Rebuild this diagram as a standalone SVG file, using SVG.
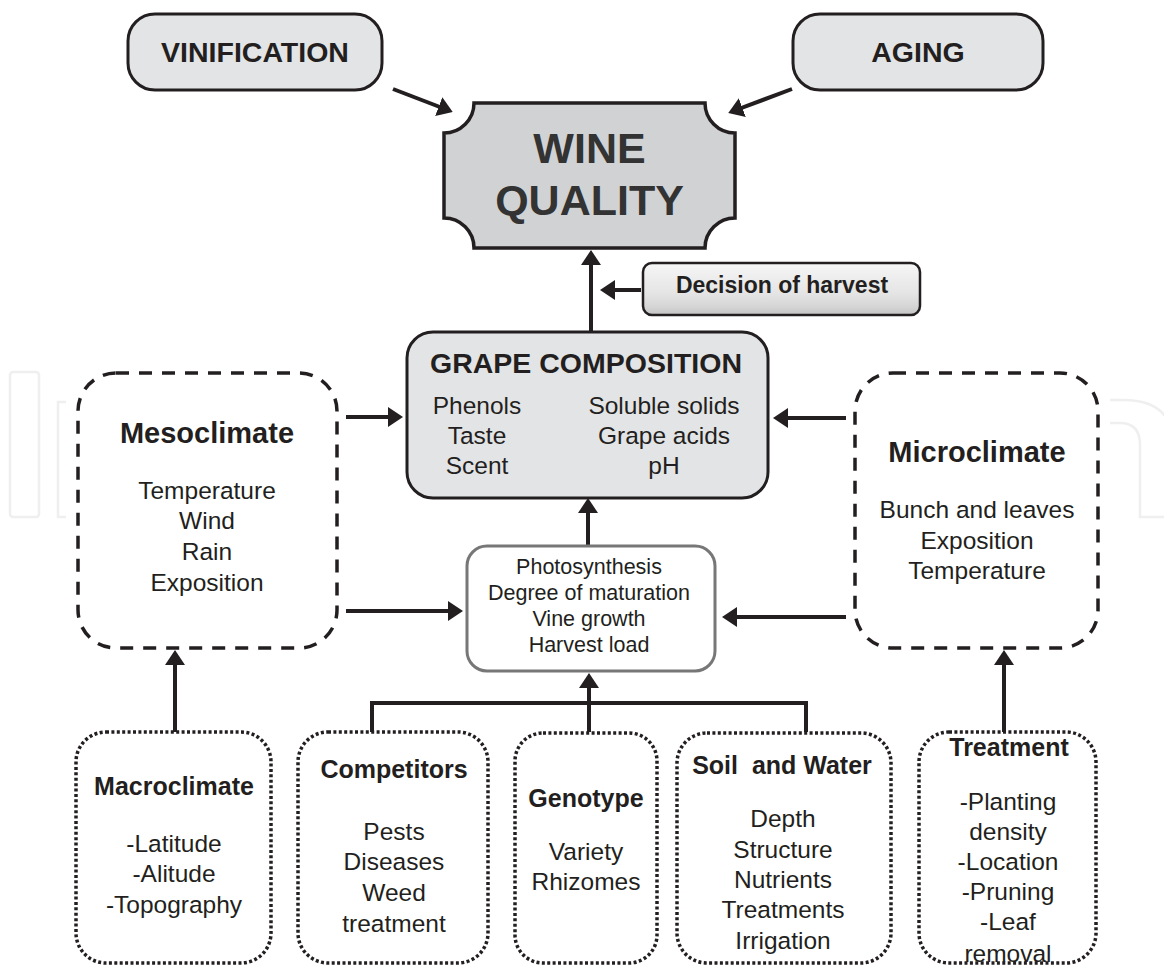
<svg xmlns="http://www.w3.org/2000/svg" width="1164" height="966" viewBox="0 0 1164 966">
<style>
  text { font-family: "Liberation Sans", Arial, Helvetica, sans-serif; fill: #231f20; text-anchor: middle; }
  .b { font-weight: bold; }
  .t28 { font-size: 28.5px; font-weight: bold; }
  .t29 { font-size: 29px; font-weight: bold; }
  .t25 { font-size: 25px; font-weight: bold; }
  .body { font-size: 24.5px; }
  .small { font-size: 21.5px; }
  .pill { fill: #e3e4e6; stroke: #231f20; stroke-width: 3; }
  .dash { fill: #ffffff; stroke: #231f20; stroke-width: 3.5; stroke-dasharray: 13 10; }
  .dot { fill: #ffffff; stroke: #231f20; stroke-width: 3.5; stroke-dasharray: 3 2.4; }
  .conn { fill: none; stroke: #231f20; stroke-width: 4; }
  .wm { fill: none; stroke: #efefef; stroke-width: 2.5; }
</style>
<defs>
  <marker id="ah" markerUnits="userSpaceOnUse" viewBox="0 0 15 20" refX="11" refY="10" markerWidth="15" markerHeight="20" orient="auto">
    <path d="M0,0 L15,10 L0,20 Z" fill="#231f20"/>
  </marker>
  <linearGradient id="dg" x1="0" y1="0" x2="0" y2="1">
    <stop offset="0" stop-color="#f6f6f6"/>
    <stop offset="0.6" stop-color="#e4e4e4"/>
    <stop offset="0.85" stop-color="#d4d4d4"/>
    <stop offset="1" stop-color="#c4c4c4"/>
  </linearGradient>
</defs>
<rect width="1164" height="966" fill="#ffffff"/>

<g id="watermark">
  <rect class="wm" x="10" y="372" width="29" height="145" rx="3"/>
  <path class="wm" d="M66 402 H58 V517 H66"/>
  <path class="wm" d="M1110 400 H1124 Q1160 400 1170 425"/>
  <path class="wm" d="M1110 423 H1120 Q1140 423 1140 445 V517 H1164"/>
</g>

<g id="connectors">
  <line class="conn" x1="393" y1="89" x2="449" y2="110.5" marker-end="url(#ah)"/>
  <line class="conn" x1="792" y1="89" x2="732" y2="111.5" marker-end="url(#ah)"/>
  <line class="conn" x1="591" y1="332" x2="591" y2="254" marker-end="url(#ah)"/>
  <line class="conn" x1="641" y1="290" x2="604" y2="290" marker-end="url(#ah)"/>
  <line class="conn" x1="346" y1="417" x2="399" y2="417" marker-end="url(#ah)"/>
  <line class="conn" x1="346" y1="611" x2="459" y2="611" marker-end="url(#ah)"/>
  <line class="conn" x1="846" y1="418" x2="777" y2="418" marker-end="url(#ah)"/>
  <line class="conn" x1="846" y1="617" x2="726" y2="617" marker-end="url(#ah)"/>
  <line class="conn" x1="588" y1="546" x2="588" y2="502" marker-end="url(#ah)"/>
  <line class="conn" x1="589" y1="732" x2="589" y2="677" marker-end="url(#ah)"/>
  <path class="conn" d="M372 732 V703 H806 V732"/>
  <line class="conn" x1="175" y1="732" x2="175" y2="654" marker-end="url(#ah)"/>
  <line class="conn" x1="1004" y1="732" x2="1004" y2="654" marker-end="url(#ah)"/>
</g>

<g id="vinification">
  <rect class="pill" x="128" y="14" width="254" height="76" rx="27"/>
  <text class="t28" x="255" y="62">VINIFICATION</text>
</g>

<g id="aging">
  <rect class="pill" x="793" y="14" width="250" height="76" rx="27"/>
  <text class="t28" x="918" y="62">AGING</text>
</g>

<g id="wine-quality">
  <path d="M474 103 H705 A30 30 0 0 0 735 133 V218 A30 30 0 0 0 705 248 H474 A30 30 0 0 0 444 218 V133 A30 30 0 0 0 474 103 Z" fill="#d1d2d4" stroke="#231f20" stroke-width="3.5"/>
  <text class="b" x="589.5" y="163" style="font-size:43px;fill:#333333">WINE</text>
  <text class="b" x="589.5" y="215" style="font-size:43px;fill:#333333">QUALITY</text>
</g>

<g id="decision-of-harvest">
  <rect x="643" y="263" width="277" height="52" rx="9" fill="url(#dg)" stroke="#231f20" stroke-width="2.5"/>
  <text class="b" x="782" y="293" style="font-size:23px">Decision of harvest</text>
</g>

<g id="grape-composition">
  <rect class="pill" x="407" y="332" width="361" height="166" rx="26"/>
  <text class="t28" x="586" y="373">GRAPE COMPOSITION</text>
  <text class="body" x="477" y="414">Phenols</text>
  <text class="body" x="477" y="444">Taste</text>
  <text class="body" x="477" y="474">Scent</text>
  <text class="body" x="664" y="414">Soluble solids</text>
  <text class="body" x="664" y="444">Grape acids</text>
  <text class="body" x="664" y="474">pH</text>
</g>

<g id="mesoclimate">
  <rect class="dash" x="78" y="373" width="259" height="275" rx="38"/>
  <text class="t29" x="207" y="443">Mesoclimate</text>
  <text class="body" x="207" y="499">Temperature</text>
  <text class="body" x="207" y="529">Wind</text>
  <text class="body" x="207" y="560">Rain</text>
  <text class="body" x="207" y="591">Exposition</text>
</g>

<g id="microclimate">
  <rect class="dash" x="855" y="373" width="243" height="275" rx="38"/>
  <text class="t29" x="977" y="462">Microclimate</text>
  <text class="body" x="977" y="518">Bunch and leaves</text>
  <text class="body" x="977" y="549">Exposition</text>
  <text class="body" x="977" y="579">Temperature</text>
</g>

<g id="vine-processes">
  <rect x="467" y="546" width="248" height="125" rx="20" fill="#ffffff" stroke="#777777" stroke-width="3"/>
  <text class="small" x="589" y="574">Photosynthesis</text>
  <text class="small" x="589" y="600">Degree of maturation</text>
  <text class="small" x="589" y="626">Vine growth</text>
  <text class="small" x="589" y="652">Harvest load</text>
</g>

<g id="macroclimate">
  <rect class="dot" x="76" y="732" width="195" height="231" rx="30"/>
  <text class="t25" x="174" y="795">Macroclimate</text>
  <text class="body" x="174" y="852">-Latitude</text>
  <text class="body" x="174" y="882">-Alitude</text>
  <text class="body" x="174" y="913">-Topography</text>
</g>

<g id="competitors">
  <rect class="dot" x="298" y="732" width="190" height="231" rx="30"/>
  <text class="t25" x="394" y="778">Competitors</text>
  <text class="body" x="394" y="840">Pests</text>
  <text class="body" x="394" y="870">Diseases</text>
  <text class="body" x="394" y="901">Weed</text>
  <text class="body" x="394" y="932">treatment</text>
</g>

<g id="genotype">
  <rect class="dot" x="515" y="733" width="142" height="230" rx="28"/>
  <text class="t25" x="586" y="807">Genotype</text>
  <text class="body" x="586" y="860">Variety</text>
  <text class="body" x="586" y="890">Rhizomes</text>
</g>

<g id="soil-and-water">
  <rect class="dot" x="677" y="733" width="214" height="230" rx="30"/>
  <text class="t25" x="782" y="774" xml:space="preserve">Soil  and Water</text>
  <text class="body" x="783" y="827">Depth</text>
  <text class="body" x="783" y="858">Structure</text>
  <text class="body" x="783" y="888">Nutrients</text>
  <text class="body" x="783" y="918">Treatments</text>
  <text class="body" x="783" y="949">Irrigation</text>
</g>

<g id="treatment">
  <rect class="dot" x="919" y="732" width="177" height="231" rx="30"/>
  <text class="t25" x="1009" y="756">Treatment</text>
  <text class="body" x="1008" y="810">-Planting</text>
  <text class="body" x="1008" y="840">density</text>
  <text class="body" x="1008" y="870">-Location</text>
  <text class="body" x="1008" y="900">-Pruning</text>
  <text class="body" x="1008" y="930">-Leaf</text>
  <text class="body" x="1008" y="962">removal</text>
</g>
</svg>
